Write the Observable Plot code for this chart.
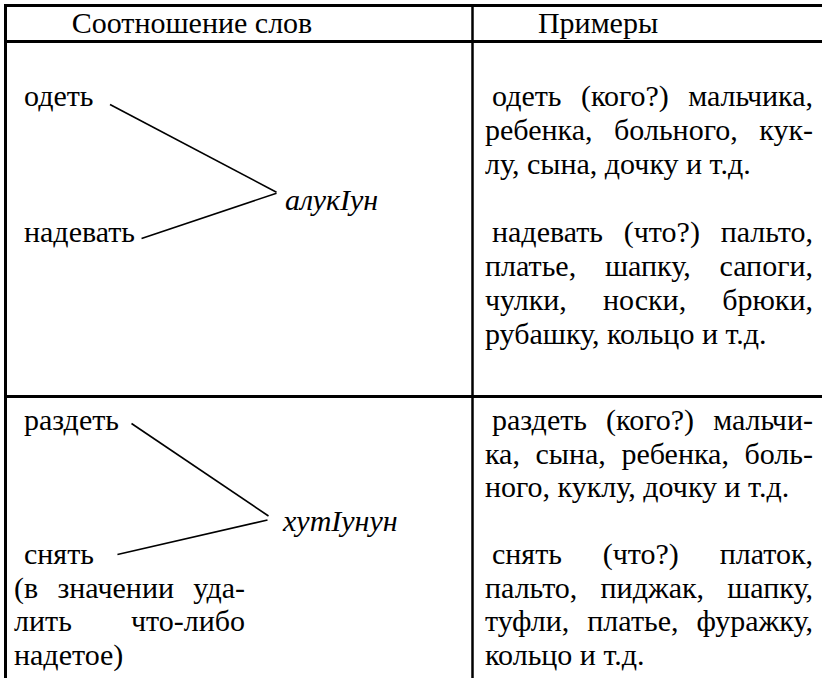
<!DOCTYPE html>
<html><head><meta charset="utf-8">
<script src="https://cdn.jsdelivr.net/npm/d3@7"></script>
<script src="https://cdn.jsdelivr.net/npm/@observablehq/plot@0.6"></script>
<style>html,body{margin:0;padding:0;background:#fff}</style>
</head><body><div id="chart"></div>
<script>
// ---- data (text content) ----
const headers = ["Соотношение слов", "Примеры"];
const pairWordsTop = ["одеть", "раздеть"];
const pairWordsBottom = ["надевать", "снять"];
const pairLabels = ["алукIун", "хутIунун"];
const leftNotes = [[], ["(в значении уда-", "лить что-либо", "надетое)"]];
const examplesFirst = [
  ["одеть (кого?) мальчика,", "ребенка, больного, кук-", "лу, сына, дочку и т.д."],
  ["раздеть (кого?) мальчи-", "ка, сына, ребенка, боль-", "ного, куклу, дочку и т.д."]
];
const examplesSecond = [
  ["надевать (что?) пальто,", "платье, шапку, сапоги,", "чулки, носки, брюки,", "рубашку, кольцо и т.д."],
  ["снять (что?) платок,", "пальто, пиджак, шапку,", "туфли, платье, фуражку,", "кольцо и т.д."]
];

// ---- layout ----
const W = 822, H = 678, FS = 30;
const FONT = "Liberation Serif";
const tableLeft = 5, tableTop = 5, headerLine = 41, colDivider = 472;
const rowLines = [396];
const blockBase = [106, 430], blockLH = [34, 33.5];
const headerBase = 33, headerCenters = [192, 598];
const leftX = 14, leftIndent = 10, leftRight = 245;
const rightX = 485, rightIndent = 7, rightRight = 813;
const labelX = [285, 283], labelLine = [3.05, 3];
const lineGapStart = [16, 12], lineDyStart = [-2, -7];
const lineGapEnd = [6, 23], lineDyEnd = [-4, -10];
const apexTop = [[-9, -18], [-15, -15]], apexBottom = [[-9, -17], [-16, -11]];

const ctx = document.createElement("canvas").getContext("2d");
ctx.font = `${FS}px "${FONT}"`;
const mw = s => ctx.measureText(s).width;

function layoutLine(str, x0, x1, y, justify, indent) {
  const start = x0 + indent;
  const words = str.split(" ");
  if (!justify || words.length < 2) return [{text: str, x: start, y}];
  const widths = words.map(mw);
  const gap = (x1 - start - d3.sum(widths)) / (words.length - 1);
  let x = start;
  return words.map((w, i) => { const o = {text: w, x, y}; x += widths[i] + gap; return o; });
}
function paragraph(lines, x0, x1, b, firstLine, indent) {
  const out = [];
  lines.forEach((l, i) => {
    const y = blockBase[b] + (firstLine + i) * blockLH[b];
    out.push(...layoutLine(l, x0, x1, y, i < lines.length - 1, i === 0 ? indent : 0));
  });
  return out;
}

const words = [];
const labels = [];
const links = [];
for (let b = 0; b < 2; b++) {
  const yTop = blockBase[b], yBot = blockBase[b] + 4 * blockLH[b];
  const xw = leftX + leftIndent;
  words.push({text: pairWordsTop[b], x: xw, y: yTop});
  words.push({text: pairWordsBottom[b], x: xw, y: yBot});
  words.push(...paragraph(leftNotes[b], leftX, leftRight, b, 5, 0));
  words.push(...paragraph(examplesFirst[b], rightX, rightRight, b, 0, rightIndent));
  words.push(...paragraph(examplesSecond[b], rightX, rightRight, b, 4, rightIndent));
  const ly = blockBase[b] + labelLine[b] * blockLH[b];
  labels.push({text: pairLabels[b], x: labelX[b], y: ly});
  links.push({x1: xw + mw(pairWordsTop[b]) + lineGapStart[b], y1: yTop + lineDyStart[b],
              x2: labelX[b] + apexTop[b][0], y2: ly + apexTop[b][1]});
  links.push({x1: labelX[b] + apexBottom[b][0], y1: ly + apexBottom[b][1],
              x2: xw + mw(pairWordsBottom[b]) + lineGapEnd[b], y2: yBot + lineDyEnd[b]});
}
const headerData = headers.map((t, i) => ({text: t, x: headerCenters[i], y: headerBase}));

// text layer rendered inside the Plot through a render-function mark
function textLayer(data, anchor, italic) {
  return (index, scales) => {
    const sx = scales && scales.x ? scales.x : v => v;
    const sy = scales && scales.y ? scales.y : v => v;
    const g = d3.create("svg:g")
      .attr("font-family", FONT).attr("font-size", FS).attr("fill", "#000")
      .attr("text-anchor", anchor);
    if (italic) g.attr("font-style", "italic");
    g.selectAll("text").data(data).join("text")
      .attr("x", d => sx(d.x)).attr("y", d => sy(d.y)).text(d => d.text);
    return g.node();
  };
}

const plot = Plot.plot({
  width: W, height: H, margin: 0,
  x: {type: "identity"}, y: {type: "identity"},
  style: {background: "#fff"},
  marks: [
    Plot.ruleY([tableTop, headerLine, ...rowLines], {y: d => d, x1: tableLeft - 1, x2: W, stroke: "#000", strokeWidth: 3}),
    Plot.ruleX([tableLeft], {x: d => d, y1: tableTop - 1, y2: H, stroke: "#000", strokeWidth: 3}),
    Plot.ruleX([colDivider], {x: d => d, y1: tableTop, y2: H, stroke: "#000", strokeWidth: 2.5}),
    Plot.link(links, {x1: "x1", y1: "y1", x2: "x2", y2: "y2", stroke: "#000", strokeWidth: 1.6}),
    textLayer(headerData, "middle", false),
    textLayer(words, "start", false),
    textLayer(labels, "start", true)
  ]
});
document.getElementById("chart").appendChild(plot);
</script>
</body></html>
